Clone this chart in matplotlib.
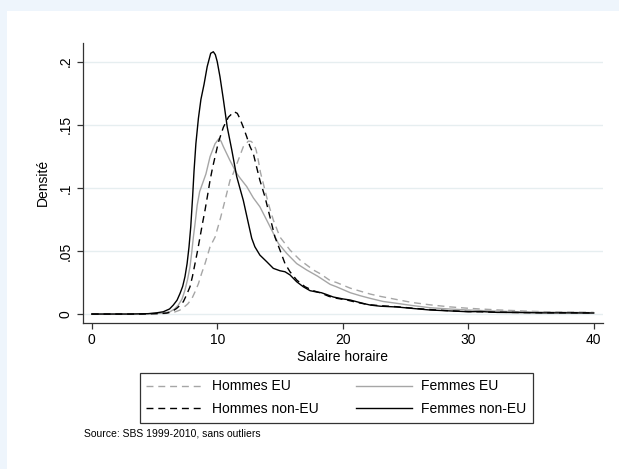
import matplotlib
matplotlib.use("Agg")
import matplotlib.pyplot as plt
from matplotlib.patches import Rectangle

plt.rcParams["font.family"] = ["Liberation Sans", "DejaVu Sans"]

# ── Données (densités de noyau, salaire horaire) ────────────────────────────
# Hommes EU (gris, tirets)
hom_eu_x = [0, 4, 5.8, 6.5, 7.0, 7.3, 7.65, 7.97, 8.25, 8.5, 8.75, 9.03, 9.43, 9.83,
            10.22, 10.62, 11.02, 11.28, 11.68, 12.08, 12.48, 12.7, 12.9, 13.1, 13.27,
            13.45, 13.67, 14.07, 14.47, 15.0, 15.8, 16.6, 17.66, 18.2, 19.0, 19.5,
            20.6, 21.1, 22.2, 23.0, 24.3, 25.5, 26.96, 28.5, 29.96, 31.0, 32.3, 34.0,
            34.9, 36.0, 37.6, 40.0]
hom_eu_y = [0, 0, 0.0004, 0.0012, 0.003, 0.005, 0.008, 0.012, 0.018, 0.024, 0.032,
            0.040, 0.0533, 0.061, 0.0745, 0.090, 0.106, 0.1115, 0.122, 0.1326, 0.137,
            0.1368, 0.135, 0.130, 0.122, 0.112, 0.1035, 0.0877, 0.0745, 0.061, 0.0507,
            0.0428, 0.0349, 0.032, 0.0265, 0.025, 0.0205, 0.019, 0.0158, 0.0140,
            0.0115, 0.0092, 0.0073, 0.0057, 0.0046, 0.0040, 0.0033, 0.0026, 0.0022,
            0.0019, 0.0016, 0.0013]

# Femmes EU (gris, plein)
fem_eu_x = [0, 4, 5.5, 6.24, 6.6, 6.9, 7.2, 7.43, 7.65, 7.83, 7.97, 8.1, 8.25, 8.4,
            8.6, 8.85, 9.1, 9.43, 9.83, 10.14, 10.3, 10.49, 11.0, 11.55, 11.8, 12.35,
            12.88, 13.4, 13.94, 14.47, 14.87, 15.54, 16.33, 17.13, 18.0, 19.0, 19.5,
            20.6, 21.4, 22.2, 23.2, 24.3, 25.5, 26.96, 28.5, 30.0, 32.0, 34.0, 36.0,
            38.0, 40.0]
fem_eu_y = [0, 0, 0.0006, 0.0018, 0.004, 0.0071, 0.012, 0.019, 0.028, 0.0375, 0.049,
            0.061, 0.073, 0.086, 0.097, 0.104, 0.111, 0.1247, 0.135, 0.139, 0.137,
            0.1326, 0.122, 0.1115, 0.108, 0.101, 0.092, 0.085, 0.0745, 0.064, 0.056,
            0.048, 0.040, 0.0349, 0.030, 0.0235, 0.0216, 0.0169, 0.0145, 0.0124,
            0.010, 0.0085, 0.0068, 0.005, 0.0040, 0.0032, 0.0024, 0.0018, 0.0015,
            0.0013, 0.0011]

# Hommes non-EU (noir, tirets)
hom_neu_x = [0, 4, 5.5, 5.98, 6.4, 6.77, 7.05, 7.3, 7.55, 7.83, 8.03, 8.23, 8.43, 8.63,
             8.83, 9.03, 9.23, 9.43, 9.63, 9.83, 10.09, 10.49, 10.89, 11.34, 11.6, 11.8,
             12.08, 12.35, 12.6, 12.88, 13.1, 13.4, 13.8, 14.2, 14.6, 15.0, 15.4, 15.8,
             16.33, 17.0, 17.66, 18.3, 18.9, 19.5, 20.3, 21.0, 22.0, 23.0, 24.3, 25.5,
             27.0, 28.5, 30.0, 32.0, 34.0, 36.0, 38.0, 40.0]
hom_neu_y = [0, 0, 0.0004, 0.0008, 0.002, 0.0045, 0.0070, 0.0098, 0.015, 0.0216, 0.030,
             0.040, 0.050, 0.061, 0.072, 0.0824, 0.094, 0.106, 0.116, 0.1247, 0.136,
             0.148, 0.156, 0.1603, 0.159, 0.155, 0.148, 0.1405, 0.133, 0.127, 0.118,
             0.106, 0.093, 0.077, 0.061, 0.0507, 0.040, 0.0335, 0.027, 0.0216, 0.0185,
             0.0165, 0.0140, 0.0125, 0.0112, 0.0095, 0.0075, 0.0066, 0.0058, 0.0047,
             0.0035, 0.0026, 0.0020, 0.0015, 0.0012, 0.0010, 0.0010, 0.0009]

# Femmes non-EU (noir, plein)
fem_neu_x = [0, 3, 4.5, 5.2, 5.7, 6.2, 6.5, 6.8, 7.04, 7.25, 7.43, 7.6, 7.75, 7.89,
             8.04, 8.15, 8.3, 8.5, 8.7, 8.95, 9.2, 9.48, 9.69, 9.85, 10.0, 10.22, 10.49,
             10.8, 11.16, 11.55, 11.8, 12.08, 12.48, 12.75, 13.0, 13.4, 13.94, 14.47,
             15.0, 15.4, 15.8, 16.33, 16.86, 17.4, 17.9, 18.3, 18.7, 19.25, 20.0, 20.6,
             21.6, 22.2, 23.0, 24.3, 25.5, 26.96, 28.5, 30.0, 31.0, 32.3, 34.0, 36.0,
             38.0, 40.0]
fem_neu_y = [0, 0, 0.0003, 0.001, 0.0018, 0.004, 0.0071, 0.011, 0.0164, 0.022, 0.0296,
             0.040, 0.053, 0.069, 0.093, 0.113, 0.135, 0.155, 0.170, 0.182, 0.196,
             0.2066, 0.2078, 0.2055, 0.200, 0.188, 0.170, 0.148, 0.130, 0.109, 0.100,
             0.090, 0.072, 0.060, 0.0533, 0.0467, 0.0415, 0.0362, 0.0343, 0.0335, 0.031,
             0.0256, 0.0216, 0.0185, 0.0175, 0.0169, 0.0155, 0.0135, 0.0120, 0.0111,
             0.0085, 0.0071, 0.0062, 0.0056, 0.0045, 0.0032, 0.0025, 0.0018, 0.0020,
             0.0013, 0.0012, 0.0009, 0.0009, 0.0008]

xticks = [0, 10, 20, 30, 40]
yticks = [0, 0.05, 0.1, 0.15, 0.2]
ytick_labels = ["0", ".05", ".1", ".15", ".2"]

# ── Figure ──────────────────────────────────────────────────────────────────
fig = plt.figure(figsize=(6.19, 4.69), dpi=100)
fig.patch.set_facecolor("#eef5fc")
fig.add_artist(Rectangle((7 / 619, 0), 1, 1 - 11 / 469, transform=fig.transFigure,
                         facecolor="white", edgecolor="none", zorder=-10))

ax = fig.add_axes([0.1336, 0.3113, 0.8405, 0.5977])
ax.set_facecolor("white")

l_heu, = ax.plot(hom_eu_x, hom_eu_y, color="#a6a6a6", lw=1.0, dashes=(5, 3.5),
                 label="Hommes EU")
l_feu, = ax.plot(fem_eu_x, fem_eu_y, color="#a6a6a6", lw=1.0, label="Femmes EU")
l_hneu, = ax.plot(hom_neu_x, hom_neu_y, color="black", lw=1.0, dashes=(5, 3.5),
                  label="Hommes non-EU")
l_fneu, = ax.plot(fem_neu_x, fem_neu_y, color="black", lw=1.0, label="Femmes non-EU")

ax.set_xlim(-0.72, 40.74)
ax.set_ylim(-0.0071, 0.215)
ax.set_xticks(xticks)
ax.set_yticks(yticks)
ax.set_yticklabels(ytick_labels, rotation=90, va="center")
ax.grid(axis="y", color="#e6eef0", lw=1.0)
ax.set_axisbelow(True)

for s in ["top", "right"]:
    ax.spines[s].set_visible(False)
for s in ["left", "bottom"]:
    ax.spines[s].set_color("#333333")
    ax.spines[s].set_linewidth(0.9)
ax.tick_params(axis="both", direction="out", length=4, width=0.9, color="#333333",
               labelsize=10)

ax.set_xlabel("Salaire horaire", fontsize=10, labelpad=2)
ax.set_ylabel("Densité", fontsize=10, labelpad=6)

# ordre Stata : ligne par ligne
handles = [l_heu, l_hneu, l_feu, l_fneu]
labels = [h.get_label() for h in handles]
leg = fig.legend(handles, labels, ncol=2, loc="upper left",
                 bbox_to_anchor=(139.5 / 619, 1 - 372.5 / 469), borderaxespad=0,
                 fontsize=10, frameon=True, fancybox=False, handlelength=4.0,
                 handletextpad=0.7, columnspacing=2.7, borderpad=0.5,
                 labelspacing=0.6)
leg.get_frame().set_edgecolor("black")
leg.get_frame().set_linewidth(0.9)

fig.text(84 / 619, 1 - 433 / 469, "Source: SBS 1999-2010, sans outliers",
         fontsize=7.5, va="center", ha="left")

fig.savefig("out.png", dpi=100, facecolor=fig.get_facecolor())
